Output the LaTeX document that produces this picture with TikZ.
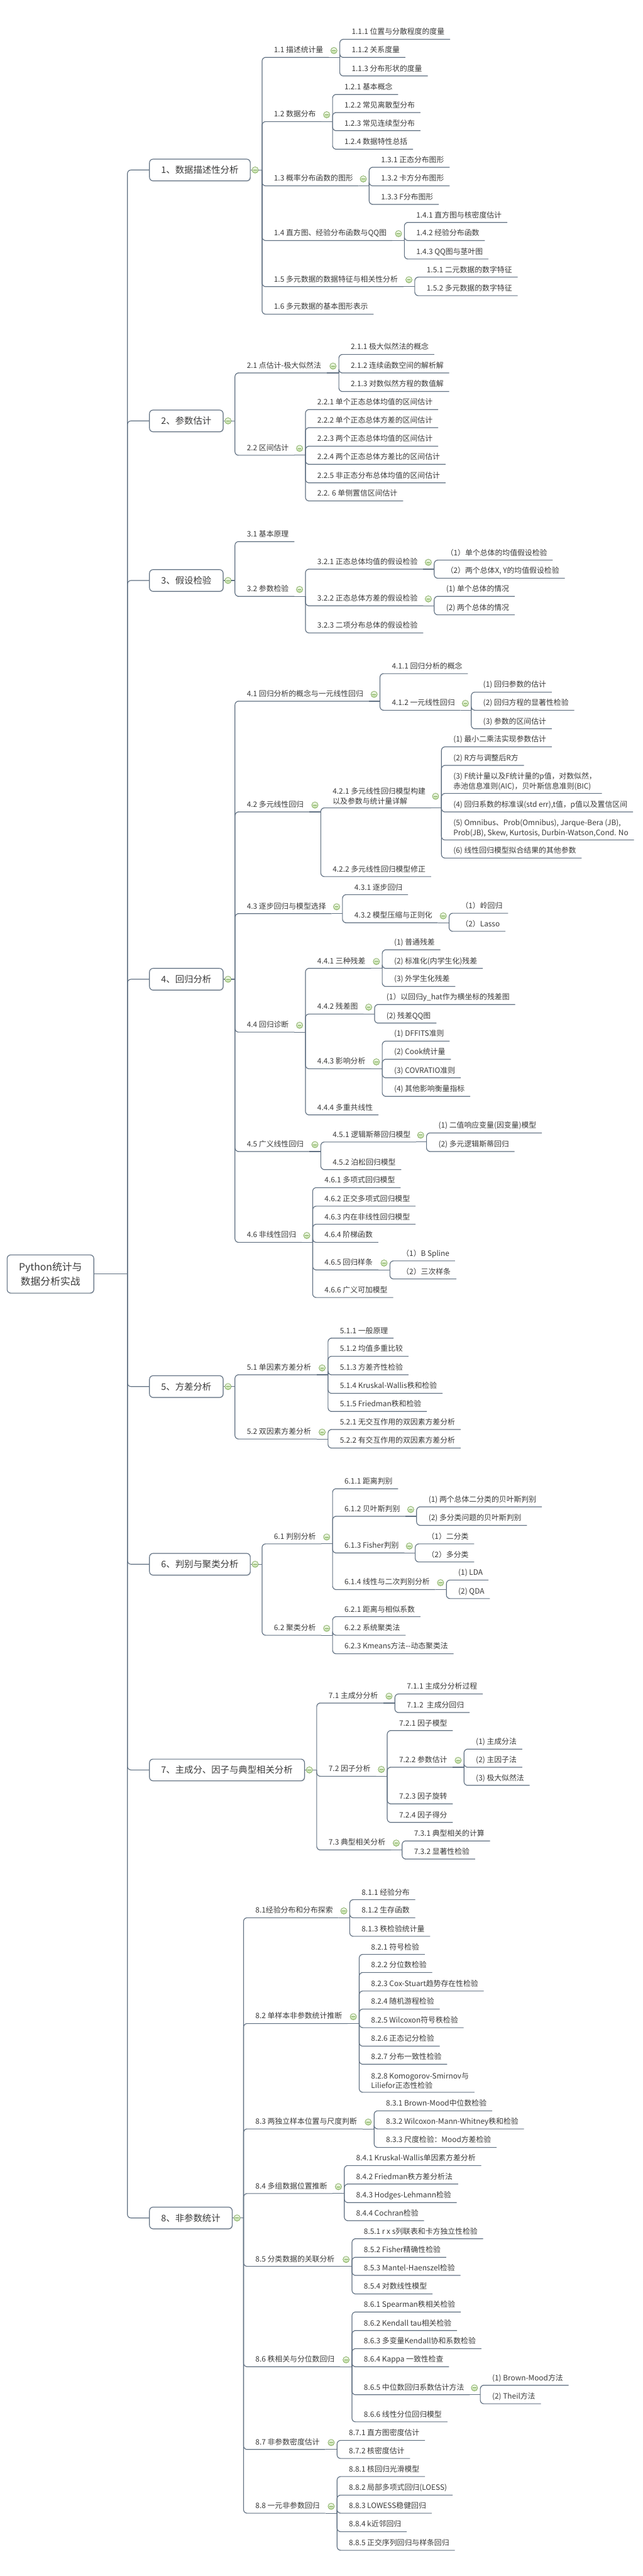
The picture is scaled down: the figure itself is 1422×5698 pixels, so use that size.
\documentclass[tikz,border=0pt]{standalone}
\usepackage{fontspec}
\setmainfont{Noto Sans CJK SC}
\usetikzlibrary{shadows}
\definecolor{linkgray}{RGB}{96,112,130}
\definecolor{txtgray}{RGB}{58,58,58}
\definecolor{foldline}{RGB}{128,168,92}
\definecolor{foldtop}{RGB}{242,249,235}
\definecolor{foldbot}{RGB}{188,220,158}
\tikzset{
    link/.style = {draw=linkgray, line width=0.8pt, rounded corners=4pt},
    topicbase/.style = {anchor=south west, xshift=7pt, inner xsep=6pt, inner ysep=3.3pt,
        text=txtgray, font=\fontsize{8.25}{11}\selectfont},
    topic/.style = {topicbase, text height=6.4pt, text depth=1.8pt},
    topictwo/.style = {topicbase, align=left},
    chapter/.style = {draw=linkgray, line width=0.8pt, rounded corners=4pt, fill=white,
        drop shadow={shadow xshift=0.6pt, shadow yshift=-0.8pt, opacity=0.25},
        anchor=west, inner xsep=13pt, minimum height=24pt,
        text=txtgray, font=\fontsize{10}{12}\selectfont},
    rootbox/.style = {chapter, align=center, inner ysep=8pt, font=\fontsize{11}{16}\selectfont},
    fold/.style = {circle, draw=foldline, line width=0.5pt, inner sep=0pt, minimum size=7pt,
        top color=foldtop, bottom color=foldbot,
        path picture={\draw[foldline, line width=0.6pt]
            ([xshift=-2pt]path picture bounding box.center) -- ([xshift=2pt]path picture bounding box.center);}}
}

\begin{document}
\begin{tikzpicture}[x=0.5pt, y=-0.5pt]
    \fill[white] (0,0) rectangle (1422,5698);
    \useasboundingbox (0,0) rectangle (1422,5698);

    % root and chapters
    \node [rootbox] (root) at (15,2818) {Python统计与\\数据分析实战};
    \coordinate (root-j) at (282,2818);
    \node [chapter] (c1) at (330,376) {1、数据描述性分析};
    \node [chapter] (c2) at (330,931) {2、参数估计};
    \node [chapter] (c3) at (330,1284) {3、假设检验};
    \node [chapter] (c4) at (330,2166) {4、回归分析};
    \node [chapter] (c5) at (330,3067) {5、方差分析};
    \node [chapter] (c6) at (330,3460) {6、判别与聚类分析};
    \node [chapter] (c7) at (330,3915) {7、主成分、因子与典型相关分析};
    \node [chapter] (c8) at (330,4906) {8、非参数统计};
    \coordinate (c1-j) at (580,376);
    \coordinate (c2-j) at (520,931);
    \coordinate (c3-j) at (520,1284);
    \coordinate (c4-j) at (520,2166);
    \coordinate (c5-j) at (520,3067);
    \coordinate (c6-j) at (580,3460);
    \coordinate (c7-j) at (701,3915);
    \coordinate (c8-j) at (539,4906);

    % 1
    \node [topic] (n11) at (580,127) {1.1 描述统计量};
    \coordinate (n11-j) at (752,127);
    \node [topic] (n111) at (752,87) {1.1.1 位置与分散程度的度量};
    \node [topic] (n112) at (752,127) {1.1.2 关系度量};
    \node [topic] (n113) at (752,168) {1.1.3 分布形状的度量};
    \node [topic] (n12) at (580,269) {1.2 数据分布};
    \coordinate (n12-j) at (736,269);
    \node [topic] (n121) at (736,209) {1.2.1 基本概念};
    \node [topic] (n122) at (736,249) {1.2.2 常见离散型分布};
    \node [topic] (n123) at (736,289) {1.2.3 常见连续型分布};
    \node [topic] (n124) at (736,330) {1.2.4 数据特性总括};
    \node [topic] (n13) at (580,411) {1.3 概率分布函数的图形};
    \coordinate (n13-j) at (817,411);
    \node [topic] (n131) at (817,370) {1.3.1 正态分布图形};
    \node [topic] (n132) at (817,411) {1.3.2 卡方分布图形};
    \node [topic] (n133) at (817,452) {1.3.3 F分布图形};
    \node [topic] (n14) at (580,532) {1.4 直方图、经验分布函数与QQ图};
    \coordinate (n14-j) at (895,532);
    \node [topic] (n141) at (895,492) {1.4.1 直方图与核密度估计};
    \node [topic] (n142) at (895,532) {1.4.2 经验分布函数};
    \node [topic] (n143) at (895,573) {1.4.3 QQ图与茎叶图};
    \node [topic] (n15) at (580,634) {1.5 多元数据的数据特征与相关性分析};
    \coordinate (n15-j) at (918,634);
    \node [topic] (n151) at (918,613) {1.5.1 二元数据的数字特征};
    \node [topic] (n152) at (918,654) {1.5.2 多元数据的数字特征};
    \node [topic] (n16) at (580,695) {1.6 多元数据的基本图形表示};

    % 2
    \node [topic] (n21) at (520,825) {2.1 点估计-极大似然法};
    \coordinate (n21-j) at (750,825);
    \node [topic] (n211) at (750,784) {2.1.1 极大似然法的概念};
    \node [topic] (n212) at (750,825) {2.1.2 连续函数空间的解析解};
    \node [topic] (n213) at (750,866) {2.1.3 对数似然方程的数值解};
    \node [topic] (n22) at (520,1007) {2.2 区间估计};
    \coordinate (n22-j) at (676,1007);
    \node [topic] (n221) at (676,906) {2.2.1 单个正态总体均值的区间估计};
    \node [topic] (n222) at (676,946) {2.2.2 单个正态总体方差的区间估计};
    \node [topic] (n223) at (676,987) {2.2.3 两个正态总体均值的区间估计};
    \node [topic] (n224) at (676,1027) {2.2.4 两个正态总体方差比的区间估计};
    \node [topic] (n225) at (676,1068) {2.2.5 非正态分布总体均值的区间估计};
    \node [topic] (n226) at (676,1108) {2.2. 6 单侧置信区间估计};

    % 3
    \node [topic] (n31) at (520,1198) {3.1 基本原理};
    \node [topic] (n32) at (520,1319) {3.2 参数检验};
    \coordinate (n32-j) at (676,1319);
    \node [topic] (n321) at (676,1259) {3.2.1 正态总体均值的假设检验};
    \coordinate (n321-j) at (961,1259);
    \node [topic] (n3211) at (961,1239) {（1）单个总体的均值假设检验};
    \node [topic] (n3212) at (961,1279) {（2）两个总体X, Y的均值假设检验};
    \node [topic] (n322) at (676,1340) {3.2.2 正态总体方差的假设检验};
    \coordinate (n322-j) at (961,1340);
    \node [topic] (n3221) at (961,1319) {(1) 单个总体的情况};
    \node [topic] (n3222) at (961,1360) {(2) 两个总体的情况};
    \node [topic] (n323) at (676,1400) {3.2.3 二项分布总体的假设检验};

    % 4
    \node [topic] (n41) at (520,1551) {4.1 回归分析的概念与一元线性回归};
    \coordinate (n41-j) at (841,1551);
    \node [topic] (n411) at (841,1490) {4.1.1 回归分析的概念};
    \node [topic] (n412) at (841,1571) {4.1.2 一元线性回归};
    \coordinate (n412-j) at (1043,1571);
    \node [topic] (n4121) at (1043,1531) {(1) 回归参数的估计};
    \node [topic] (n4122) at (1043,1571) {(2) 回归方程的显著性检验};
    \node [topic] (n4123) at (1043,1612) {(3) 参数的区间估计};
    \node [topic] (n42) at (520,1796) {4.2 多元线性回归};
    \coordinate (n42-j) at (710,1796);
    \node [topictwo] (n421) at (710,1787) {4.2.1 多元线性回归模型构建\\以及参数与统计量详解};
    \coordinate (n421-j) at (977,1787);
    \node [topic] (n4211) at (977,1652) {(1) 最小二乘法实现参数估计};
    \node [topic] (n4212) at (977,1693) {(2) R方与调整后R方};
    \node [topictwo] (n4213) at (977,1755) {(3) F统计量以及F统计量的p值，对数似然，\\赤池信息准则(AIC)，贝叶斯信息准则(BIC)};
    \node [topic] (n4214) at (977,1796) {(4) 回归系数的标准误(std err),t值，p值以及置信区间};
    \node [topictwo] (n4215) at (977,1858) {(5) Omnibus、Prob(Omnibus), Jarque-Bera (JB),\\Prob(JB), Skew, Kurtosis, Durbin-Watson,Cond. No};
    \node [topic] (n4216) at (977,1898) {(6) 线性回归模型拟合结果的其他参数};
    \node [topic] (n422) at (710,1939) {4.2.2 多元线性回归模型修正};
    \node [topic] (n43) at (520,2021) {4.3 逐步回归与模型选择};
    \coordinate (n43-j) at (758,2021);
    \node [topic] (n431) at (758,1979) {4.3.1 逐步回归};
    \node [topic] (n432) at (758,2041) {4.3.2 模型压缩与正则化};
    \coordinate (n432-j) at (994,2041);
    \node [topic] (n4321) at (994,2020) {（1）岭回归};
    \node [topic] (n4322) at (994,2060) {（2）Lasso};
    \node [topic] (n44) at (520,2283) {4.4 回归诊断};
    \coordinate (n44-j) at (676,2283);
    \node [topic] (n441) at (676,2142) {4.4.1 三种残差};
    \coordinate (n441-j) at (846,2142);
    \node [topic] (n4411) at (846,2101) {(1) 普通残差};
    \node [topic] (n4412) at (846,2142) {(2) 标准化(内学生化)残差};
    \node [topic] (n4413) at (846,2182) {(3) 外学生化残差};
    \node [topic] (n442) at (676,2243) {4.4.2 残差图};
    \coordinate (n442-j) at (829,2243);
    \node [topic] (n4421) at (829,2222) {(1）以回归y\_hat作为横坐标的残差图};
    \node [topic] (n4422) at (829,2263) {(2) 残差QQ图};
    \node [topic] (n443) at (676,2364) {4.4.3 影响分析};
    \coordinate (n443-j) at (846,2364);
    \node [topic] (n4431) at (846,2303) {(1) DFFITS准则};
    \node [topic] (n4432) at (846,2343) {(2) Cook统计量};
    \node [topic] (n4433) at (846,2384) {(3) COVRATIO准则};
    \node [topic] (n4434) at (846,2425) {(4) 其他影响衡量指标};
    \node [topic] (n444) at (676,2466) {4.4.4 多重共线性};
    \node [topic] (n45) at (520,2547) {4.5 广义线性回归};
    \coordinate (n45-j) at (710,2547);
    \node [topic] (n451) at (710,2526) {4.5.1 逻辑斯蒂回归模型};
    \coordinate (n451-j) at (944,2526);
    \node [topic] (n4511) at (944,2506) {(1) 二值响应变量(因变量)模型};
    \node [topic] (n4512) at (944,2547) {(2) 多元逻辑斯蒂回归};
    \node [topic] (n452) at (710,2587) {4.5.2 泊松回归模型};
    \node [topic] (n46) at (520,2748) {4.6 非线性回归};
    \coordinate (n46-j) at (692,2748);
    \node [topic] (n461) at (692,2627) {4.6.1 多项式回归模型};
    \node [topic] (n462) at (692,2668) {4.6.2 正交多项式回归模型};
    \node [topic] (n463) at (692,2708) {4.6.3 内在非线性回归模型};
    \node [topic] (n464) at (692,2748) {4.6.4 阶梯函数};
    \node [topic] (n465) at (692,2809) {4.6.5 回归样条};
    \coordinate (n465-j) at (863,2809);
    \node [topic] (n4651) at (863,2789) {（1）B Spline};
    \node [topic] (n4652) at (863,2829) {（2）三次样条};
    \node [topic] (n466) at (692,2870) {4.6.6 广义可加模型};

    % 5
    \node [topic] (n51) at (520,3041) {5.1 单因素方差分析};
    \coordinate (n51-j) at (726,3041);
    \node [topic] (n511) at (726,2960) {5.1.1 一般原理};
    \node [topic] (n512) at (726,3000) {5.1.2 均值多重比较};
    \node [topic] (n513) at (726,3041) {5.1.3 方差齐性检验};
    \node [topic] (n514) at (726,3082) {5.1.4 Kruskal-Wallis秩和检验};
    \node [topic] (n515) at (726,3122) {5.1.5 Friedman秩和检验};
    \node [topic] (n52) at (520,3183) {5.2 双因素方差分析};
    \coordinate (n52-j) at (726,3183);
    \node [topic] (n521) at (726,3162) {5.2.1 无交互作用的双因素方差分析};
    \node [topic] (n522) at (726,3203) {5.2.2 有交互作用的双因素方差分析};

    % 6
    \node [topic] (n61) at (580,3415) {6.1 判别分析};
    \coordinate (n61-j) at (736,3415);
    \node [topic] (n611) at (736,3293) {6.1.1 距离判别};
    \node [topic] (n612) at (736,3354) {6.1.2 贝叶斯判别};
    \coordinate (n612-j) at (922,3354);
    \node [topic] (n6121) at (922,3333) {(1) 两个总体二分类的贝叶斯判别};
    \node [topic] (n6122) at (922,3374) {(2) 多分类问题的贝叶斯判别};
    \node [topic] (n613) at (736,3435) {6.1.3 Fisher判别};
    \coordinate (n613-j) at (919,3435);
    \node [topic] (n6131) at (919,3415) {（1）二分类};
    \node [topic] (n6132) at (919,3455) {（2）多分类};
    \node [topic] (n614) at (736,3516) {6.1.4 线性与二次判别分析};
    \coordinate (n614-j) at (988,3516);
    \node [topic] (n6141) at (988,3495) {(1) LDA};
    \node [topic] (n6142) at (988,3536) {(2) QDA};
    \node [topic] (n62) at (580,3617) {6.2 聚类分析};
    \coordinate (n62-j) at (736,3617);
    \node [topic] (n621) at (736,3576) {6.2.1 距离与相似系数};
    \node [topic] (n622) at (736,3617) {6.2.2 系统聚类法};
    \node [topic] (n623) at (736,3658) {6.2.3 Kmeans方法-{}-动态聚类法};

    % 7
    \node [topic] (n71) at (701,3767) {7.1 主成分分析};
    \coordinate (n71-j) at (874,3767);
    \node [topic] (n711) at (874,3747) {7.1.1 主成分分析过程};
    \node [topic] (n712) at (874,3788) {7.1.2\ \ 主成分回归};
    \node [topic] (n72) at (701,3929) {7.2 因子分析};
    \coordinate (n72-j) at (857,3929);
    \node [topic] (n721) at (857,3828) {7.2.1 因子模型};
    \node [topic] (n722) at (857,3909) {7.2.2 参数估计};
    \coordinate (n722-j) at (1027,3909);
    \node [topic] (n7221) at (1027,3869) {(1) 主成分法};
    \node [topic] (n7222) at (1027,3909) {(2) 主因子法};
    \node [topic] (n7223) at (1027,3949) {(3) 极大似然法};
    \node [topic] (n723) at (857,3990) {7.2.3 因子旋转};
    \node [topic] (n724) at (857,4031) {7.2.4 因子得分};
    \node [topic] (n73) at (701,4092) {7.3 典型相关分析};
    \coordinate (n73-j) at (890,4092);
    \node [topic] (n731) at (890,4072) {7.3.1 典型相关的计算};
    \node [topic] (n732) at (890,4112) {7.3.2 显著性检验};

    % 8
    \node [topic] (n81) at (539,4242) {8.1经验分布和分布探索};
    \coordinate (n81-j) at (774,4242);
    \node [topic] (n811) at (774,4202) {8.1.1 经验分布};
    \node [topic] (n812) at (774,4242) {8.1.2 生存函数};
    \node [topic] (n813) at (774,4283) {8.1.3 秩检验统计量};
    \node [topic] (n82) at (539,4476) {8.2 单样本非参数统计推断};
    \coordinate (n82-j) at (795,4476);
    \node [topic] (n821) at (795,4323) {8.2.1 符号检验};
    \node [topic] (n822) at (795,4363) {8.2.2 分位数检验};
    \node [topic] (n823) at (795,4404) {8.2.3 Cox-Stuart趋势存在性检验};
    \node [topic] (n824) at (795,4444) {8.2.4 随机游程检验};
    \node [topic] (n825) at (795,4485) {8.2.5 Wilcoxon符号秩检验};
    \node [topic] (n826) at (795,4526) {8.2.6 正态记分检验};
    \node [topic] (n827) at (795,4566) {8.2.7 分布一致性检验};
    \node [topictwo] (n828) at (795,4628) {8.2.8 Komogorov-Smirnov与\\Liliefor正态性检验};
    \node [topic] (n83) at (539,4709) {8.3 两独立样本位置与尺度判断};
    \coordinate (n83-j) at (828,4709);
    \node [topic] (n831) at (828,4669) {8.3.1 Brown-Mood中位数检验};
    \node [topic] (n832) at (828,4709) {8.3.2 Wilcoxon-Mann-Whitney秩和检验};
    \node [topic] (n833) at (828,4750) {8.3.3 尺度检验：Mood方差检验};
    \node [topic] (n84) at (539,4852) {8.4 多组数据位置推断};
    \coordinate (n84-j) at (762,4852);
    \node [topic] (n841) at (762,4790) {8.4.1 Kruskal-Wallis单因素方差分析};
    \node [topic] (n842) at (762,4831) {8.4.2 Friedman秩方差分析法};
    \node [topic] (n843) at (762,4872) {8.4.3 Hodges-Lehmann检验};
    \node [topic] (n844) at (762,4912) {8.4.4 Cochran检验};
    \node [topic] (n85) at (539,5013) {8.5 分类数据的关联分析};
    \coordinate (n85-j) at (779,5013);
    \node [topic] (n851) at (779,4952) {8.5.1 r x s列联表和卡方独立性检验};
    \node [topic] (n852) at (779,4993) {8.5.2 Fisher精确性检验};
    \node [topic] (n853) at (779,5033) {8.5.3 Mantel-Haenszel检验};
    \node [topic] (n854) at (779,5074) {8.5.4 对数线性模型};
    \node [topic] (n86) at (539,5235) {8.6 秩相关与分位数回归};
    \coordinate (n86-j) at (779,5235);
    \node [topic] (n861) at (779,5114) {8.6.1 Spearman秩相关检验};
    \node [topic] (n862) at (779,5155) {8.6.2 Kendall tau相关检验};
    \node [topic] (n863) at (779,5195) {8.6.3 多变量Kendall协和系数检验};
    \node [topic] (n864) at (779,5235) {8.6.4 Kappa 一致性检查};
    \node [topic] (n865) at (779,5297) {8.6.5 中位数回归系数估计方法};
    \coordinate (n865-j) at (1063,5297);
    \node [topic] (n8651) at (1063,5276) {(1) Brown-Mood方法};
    \node [topic] (n8652) at (1063,5317) {(2) Theil方法};
    \node [topic] (n866) at (779,5357) {8.6.6 线性分位回归模型};
    \node [topic] (n87) at (539,5418) {8.7 非参数密度估计};
    \coordinate (n87-j) at (746,5418);
    \node [topic] (n871) at (746,5398) {8.7.1 直方图密度估计};
    \node [topic] (n872) at (746,5438) {8.7.2 核密度估计};
    \node [topic] (n88) at (539,5559) {8.8 一元非参数回归};
    \coordinate (n88-j) at (746,5559);
    \node [topic] (n881) at (746,5478) {8.8.1 核回归光滑模型};
    \node [topic] (n882) at (746,5519) {8.8.2 局部多项式回归(LOESS)};
    \node [topic] (n883) at (746,5559) {8.8.3 LOWESS稳健回归};
    \node [topic] (n884) at (746,5600) {8.8.4 k近邻回归};
    \node [topic] (n885) at (746,5641) {8.8.5 正交序列回归与样条回归};

    % connectors
    \draw [link] (root.east) -- (root-j);
    \foreach \c in {c1,c2,c3,c4,c5,c6,c7,c8}
        \draw [link] (root-j) |- (\c.west);
    \foreach \c in {c1,c2,c3,c4,c5,c6,c7,c8} {
        \draw [link] (\c.east) -- (\c-j);
        \node [fold, xshift=5pt] at (\c.east) {};
    }
    \foreach \p in {n11,n12,n13,n14,n15,n21,n22,n32,n321,n322,n41,n412,n42,n421,n43,n432,
        n44,n441,n442,n443,n45,n451,n46,n465,n51,n52,n61,n612,n613,n614,n62,
        n71,n72,n722,n73,n81,n82,n83,n84,n85,n86,n865,n87,n88} {
        \draw [link] (\p.south east) -- (\p-j);
        \node [fold, xshift=-6.5pt] at (\p-j |- \p.center) {};
    }
    \foreach \p/\kids in {
        c1/{n11,n12,n13,n14,n15,n16}, n11/{n111,n112,n113}, n12/{n121,n122,n123,n124},
        n13/{n131,n132,n133}, n14/{n141,n142,n143}, n15/{n151,n152},
        c2/{n21,n22}, n21/{n211,n212,n213}, n22/{n221,n222,n223,n224,n225,n226},
        c3/{n31,n32}, n32/{n321,n322,n323}, n321/{n3211,n3212}, n322/{n3221,n3222},
        c4/{n41,n42,n43,n44,n45,n46}, n41/{n411,n412}, n412/{n4121,n4122,n4123},
        n42/{n421,n422}, n421/{n4211,n4212,n4213,n4214,n4215,n4216},
        n43/{n431,n432}, n432/{n4321,n4322}, n44/{n441,n442,n443,n444},
        n441/{n4411,n4412,n4413}, n442/{n4421,n4422}, n443/{n4431,n4432,n4433,n4434},
        n45/{n451,n452}, n451/{n4511,n4512}, n46/{n461,n462,n463,n464,n465,n466},
        n465/{n4651,n4652},
        c5/{n51,n52}, n51/{n511,n512,n513,n514,n515}, n52/{n521,n522},
        c6/{n61,n62}, n61/{n611,n612,n613,n614}, n612/{n6121,n6122}, n613/{n6131,n6132},
        n614/{n6141,n6142}, n62/{n621,n622,n623},
        c7/{n71,n72,n73}, n71/{n711,n712}, n72/{n721,n722,n723,n724}, n722/{n7221,n7222,n7223},
        n73/{n731,n732},
        c8/{n81,n82,n83,n84,n85,n86,n87,n88}, n81/{n811,n812,n813},
        n82/{n821,n822,n823,n824,n825,n826,n827,n828}, n83/{n831,n832,n833},
        n84/{n841,n842,n843,n844}, n85/{n851,n852,n853,n854},
        n86/{n861,n862,n863,n864,n865,n866}, n865/{n8651,n8652}, n87/{n871,n872},
        n88/{n881,n882,n883,n884,n885}} {
        \foreach \k in \kids
            \draw [link] (\p-j) |- (\k.south west) -- (\k.south east);
    }
\end{tikzpicture}
\end{document}
